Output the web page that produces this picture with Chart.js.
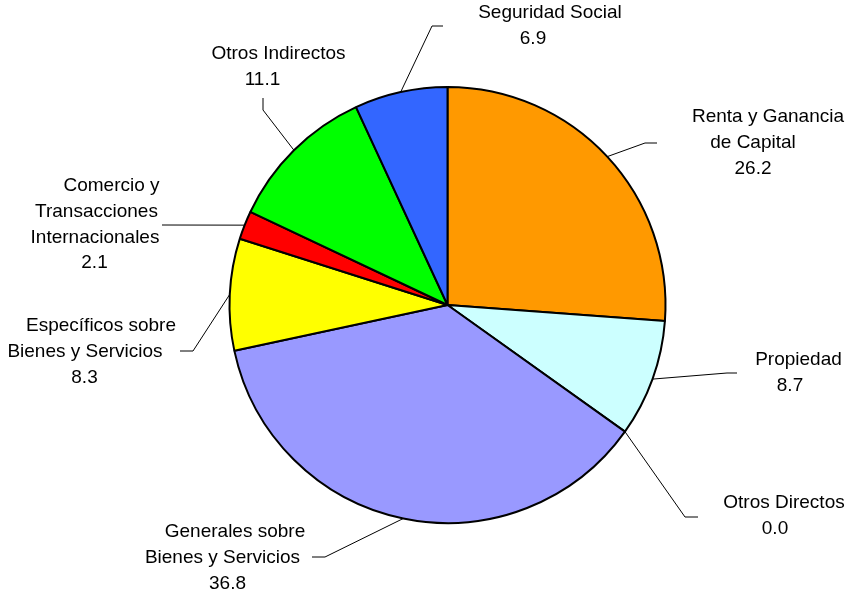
<!DOCTYPE html>
<html>
<head>
<meta charset="utf-8">
<title>Ingresos tributarios</title>
<script src="https://cdn.jsdelivr.net/npm/chart.js@4.4.1/dist/chart.umd.min.js"></script>
<style>
  html, body { margin: 0; padding: 0; background: #ffffff; }
  #wrap { width: 846px; height: 592px; }
</style>
</head>
<body>
<div id="wrap"><canvas id="pie" width="846" height="592"></canvas></div>
<script>
// Slice names (one entry per line of the label) and their shares
const categories = [
  ['Renta y Ganancia', 'de Capital'],
  ['Propiedad'],
  ['Otros Directos'],
  ['Generales sobre', 'Bienes y Servicios'],
  ['Específicos sobre', 'Bienes y Servicios'],
  ['Comercio y', 'Transacciones', 'Internacionales'],
  ['Otros Indirectos'],
  ['Seguridad Social']
];
const values = [26.2, 8.7, 0.0, 36.8, 8.3, 2.1, 11.1, 6.9];
const sliceColors = ['#FF9900', '#CCFFFF', '#993366', '#9999FF', '#FFFF00', '#FF0000', '#00FF00', '#3366FF'];

// Label placement: leader elbow and end point, text line centres and first baseline
const labelLayout = [
  { elbow: [645, 143], end: [657, 143], lineX: [768, 753, 753], top: 122 },
  { elbow: [727, 373], end: [737, 373], lineX: [798.5, 790], top: 365 },
  { elbow: [685, 517], end: [698, 517], lineX: [784, 775], top: 508 },
  { elbow: [325, 557], end: [312, 557], lineX: [235, 222.5, 227.5], top: 537 },
  { elbow: [193, 351], end: [180, 351], lineX: [101, 85, 84.5], top: 331 },
  { elbow: [163, 225], end: [162, 225], lineX: [111.5, 96.5, 95, 94.5], top: 191 },
  { elbow: [263, 110], end: [263, 98], lineX: [278.5, 262.5], top: 59 },
  { elbow: [432, 26], end: [443, 26], lineX: [550, 533], top: 18 }
];
const LINE_HEIGHT = 25.8;

// Draws each slice's leader line and its multi-line label
const sliceLabels = {
  id: 'sliceLabels',
  afterDatasetsDraw(chart) {
    const ctx = chart.ctx;
    const meta = chart.getDatasetMeta(0);
    ctx.save();
    meta.data.forEach((arc, i) => {
      const p = arc.getProps(['x', 'y', 'startAngle', 'endAngle', 'outerRadius'], true);
      const mid = (p.startAngle + p.endAngle) / 2;
      const sx = p.x + Math.cos(mid) * p.outerRadius;
      const sy = p.y + Math.sin(mid) * p.outerRadius;
      const lay = labelLayout[i];
      ctx.strokeStyle = '#000000';
      ctx.lineWidth = 1;
      ctx.beginPath();
      ctx.moveTo(sx, sy);
      ctx.lineTo(lay.elbow[0], lay.elbow[1]);
      ctx.lineTo(lay.end[0], lay.end[1]);
      ctx.stroke();

      const lines = categories[i].concat([values[i].toFixed(1)]);
      ctx.fillStyle = '#000000';
      ctx.font = '19px "Liberation Sans", Arial, sans-serif';
      ctx.textAlign = 'center';
      ctx.textBaseline = 'alphabetic';
      lines.forEach((txt, k) => {
        ctx.fillText(txt, lay.lineX[k], lay.top + k * LINE_HEIGHT);
      });
    });
    ctx.restore();
  }
};

new Chart(document.getElementById('pie'), {
  type: 'pie',
  data: {
    labels: categories.map(c => c.join(' ')),
    datasets: [{
      data: values,
      backgroundColor: sliceColors,
      borderColor: '#000000',
      borderWidth: 2
    }]
  },
  options: {
    responsive: false,
    animation: false,
    radius: 218,
    layout: { padding: { left: 131, right: 82, top: 70, bottom: 52 } },
    plugins: {
      legend: { display: false },
      tooltip: { enabled: false }
    }
  },
  plugins: [sliceLabels]
});
</script>
</body>
</html>
